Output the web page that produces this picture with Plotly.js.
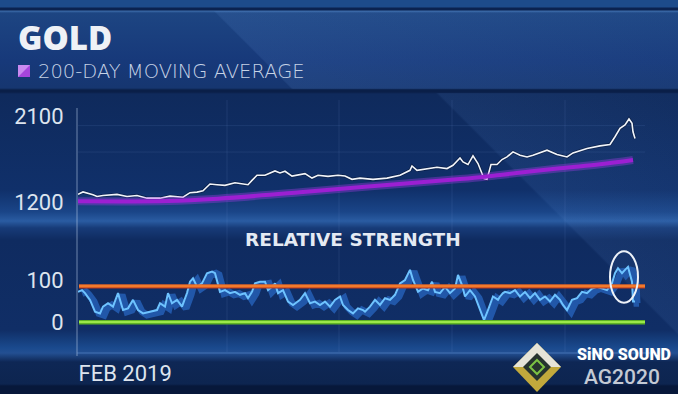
<!DOCTYPE html>
<html>
<head>
<meta charset="utf-8">
<script src="https://cdn.plot.ly/plotly-3.0.1.min.js"></script>
<style>
  html, body { margin: 0; padding: 0; background: #0c2450; }
  #wrap {
    position: relative; width: 678px; height: 394px; overflow: hidden;
    background:
      linear-gradient(180deg,
        #1d4b8b 0px, #1d4b8b 7px, #0b2250 8px, #0b2250 10px,
        #3b6aa8 11px, #1d4582 13px, #17397a 60px, #163670 88px,
        #0a1f48 90px, #0a1f48 92px,
        #0f2a5c 94px, #10306a 190px, #1a4588 212px, #2a5ca2 221px, #173b78 228px,
        #0f2b60 240px, #102e66 330px, #1a4a8e 348px, #234f92 353px, #0e2755 362px,
        #0d2550 384px, #07183a 386px, #07183a 394px);
  }
  #hdrglow { position: absolute; left: 0; top: 11px; width: 678px; height: 78px;
    background: linear-gradient(45deg, rgba(0,0,0,0) 38.5%, rgba(110,160,230,0.12) 38.8%, rgba(110,160,230,0.04) 100%); }
  #chartglow { position: absolute; left: 0; top: 93px; width: 678px; height: 292px;
    background: linear-gradient(45deg, rgba(0,0,0,0) 75%, rgba(110,160,230,0.09) 75.3%, rgba(110,160,230,0.03) 100%); }
  #chart { position: absolute; left: 0; top: 0; width: 678px; height: 394px; }
</style>
</head>
<body>
<div id="wrap"><div id="hdrglow"></div><div id="chartglow"></div><div id="chart"></div></div>
<script>
// ---- data (x = trading days since 1 Feb 2019) ----
const priceDays = [0,5,15,19,25,39,49,59,69,82,92,105,112,119,125,132,139,147,157,170,174,179,187,197,202,207,214,227,234,240,250,260,267,274,282,295,309,322,332,334,339,349,359,369,375,382,385,390,395,400,404,406,409,413,419,424,429,435,442,449,455,469,479,489,495,509,522,532,537,542,547,551,554,555,557];
const price = [1285,1310,1281,1263,1273,1284,1263,1273,1245,1245,1266,1255,1302,1308,1322,1392,1385,1378,1406,1385,1430,1483,1483,1528,1507,1525,1475,1500,1454,1483,1472,1483,1475,1441,1454,1441,1454,1483,1535,1580,1535,1553,1566,1553,1587,1664,1622,1595,1685,1605,1500,1448,1441,1595,1595,1647,1674,1727,1692,1674,1692,1744,1699,1674,1716,1762,1789,1804,1884,1972,2006,2069,2024,1936,1867];

const maDays = [0,90,140,222,287,382,407,422,482,522,555];
const ma200 = [1212,1215,1240,1306,1364,1444,1468,1486,1556,1597,1642];

const rsiDays = [0,4,7,12,17,22,25,30,35,40,45,50,55,60,65,72,79,82,87,90,94,99,104,109,112,115,119,124,129,134,137,142,147,152,157,162,167,170,174,177,182,187,190,194,197,200,205,210,215,222,227,232,237,242,247,252,257,262,265,270,275,280,285,287,292,297,302,307,312,317,322,327,332,335,340,345,350,354,357,362,367,372,377,380,384,387,392,397,402,406,410,415,420,422,425,427,432,437,442,447,452,457,462,467,472,477,482,485,489,494,499,504,509,514,519,524,529,534,537,540,544,547,550,554,555,557];
const rsi = [72,76,69,53,25,21,37,45,37,69,29,33,53,29,21,25,29,45,37,69,45,53,37,69,96,104,84,92,116,120,116,72,76,69,72,65,69,57,72,92,96,96,76,84,92,69,76,49,41,53,69,45,49,41,49,37,53,61,41,29,21,33,29,25,37,53,41,57,53,65,92,100,124,100,72,80,76,96,72,69,84,69,80,112,88,61,76,61,29,5,29,61,53,61,69,72,69,76,61,72,57,69,53,61,49,65,53,41,29,53,57,72,69,80,84,80,76,92,116,128,116,124,131,96,49,49];

const upperLevel = 86;   // orange reference line
const lowerLevel = 0;    // green reference line
const priceTicks = [1200, 2100];
const rsiTicks = [0, 100];
const xTickVals = [0];
const xTickText = ['FEB 2019'];
const gridDays = [149, 261, 374, 487];
const priceGrid = [1725, 2000];
const circleDays = [532, 560];
const circleRsi = [46, 168];
const xEnd = 567;

const FONT = 'Roboto, "Open Sans", sans-serif';
const WIDE = '"Open Sans", Roboto, sans-serif';
const DJ = '"DejaVu Sans", "Open Sans", sans-serif';
const W = 678, H = 394;
const px = x => x / W, py = y => (H - y) / H;
const poly = pts => 'M' + pts.map(p => px(p[0]) + ',' + py(p[1])).join('L') + 'Z';

const traces = [
  {x: priceDays, y: price, xaxis: 'x', yaxis: 'y', mode: 'lines',
   line: {color: 'rgba(3,10,30,0.4)', width: 3.2}, hoverinfo: 'skip'},
  {x: priceDays, y: price, xaxis: 'x', yaxis: 'y', mode: 'lines',
   line: {color: '#f2f5fa', width: 1.6}},
  {x: maDays, y: ma200, xaxis: 'x', yaxis: 'y', mode: 'lines', line: {color: 'rgba(170,60,235,0.35)', width: 8, shape: 'spline'}},
  {x: maDays, y: ma200, xaxis: 'x', yaxis: 'y', mode: 'lines', line: {color: '#9c1fd2', width: 4, shape: 'spline'}},
  {x: rsiDays.map(d => d + 4), y: rsi.map(v => v - 4), xaxis: 'x', yaxis: 'y2', mode: 'lines',
   line: {color: 'rgba(36,92,176,0.9)', width: 7}},
  {x: rsiDays, y: rsi, xaxis: 'x', yaxis: 'y2', mode: 'lines',
   line: {color: '#6ec3ff', width: 2}},
  {x: priceTicks.map(() => -3), y: priceTicks, xaxis: 'x', yaxis: 'y', mode: 'markers', cliponaxis: false,
   marker: {symbol: 'triangle-left', size: 7, color: '#c9d6e8'}},
  {x: rsiTicks.map(() => -3), y: rsiTicks, xaxis: 'x', yaxis: 'y2', mode: 'markers', cliponaxis: false,
   marker: {symbol: 'triangle-left', size: 7, color: '#c9d6e8'}},
  {x: xTickVals.map(v => v + 2), y: xTickVals.map(() => -80), xaxis: 'x', yaxis: 'y2', mode: 'markers', cliponaxis: false,
   marker: {symbol: 'triangle-down', size: 8, color: '#c9d6e8'}}
];

const shapes = [];
shapes.push({type: 'rect', xref: 'paper', yref: 'paper', x0: px(18), x1: px(30), y0: py(77), y1: py(65),
  fillcolor: '#a545dc', line: {width: 0}});
shapes.push({type: 'path', xref: 'paper', yref: 'paper', path: poly([[18,65],[30,65],[18,77]]),
  fillcolor: '#c98af0', line: {width: 0}});
shapes.push({type: 'line', xref: 'paper', yref: 'paper', x0: px(77), x1: px(77), y0: py(356), y1: py(108),
  line: {color: 'rgba(190,210,235,0.55)', width: 1}});
shapes.push({type: 'line', xref: 'paper', yref: 'paper', x0: px(77), x1: px(650), y0: py(353), y1: py(353),
  line: {color: 'rgba(110,160,225,0.45)', width: 1}});
gridDays.forEach(d => shapes.push({type: 'line', xref: 'x', yref: 'paper', x0: d, x1: d, y0: py(352), y1: py(100),
  line: {color: 'rgba(120,165,225,0.13)', width: 1}, layer: 'below'}));
priceGrid.forEach(v => shapes.push({type: 'line', xref: 'paper', yref: 'y', x0: px(78), x1: px(645), y0: v, y1: v,
  line: {color: 'rgba(120,165,225,0.12)', width: 1}, layer: 'below'}));
shapes.push({type: 'line', xref: 'x', yref: 'y2', x0: 1, x1: xEnd, y0: upperLevel - 1.6, y1: upperLevel - 1.6,
  line: {color: '#b8361c', width: 4}});
shapes.push({type: 'line', xref: 'x', yref: 'y2', x0: 1, x1: xEnd, y0: upperLevel, y1: upperLevel,
  line: {color: '#f27a2c', width: 3}});
shapes.push({type: 'line', xref: 'x', yref: 'y2', x0: 1, x1: xEnd + 3, y0: lowerLevel, y1: lowerLevel,
  line: {color: '#5fb324', width: 4.5}});
shapes.push({type: 'line', xref: 'x', yref: 'y2', x0: 1, x1: xEnd + 3, y0: lowerLevel + 0.8, y1: lowerLevel + 0.8,
  line: {color: '#9ae84a', width: 2}});
shapes.push({type: 'circle', xref: 'x', yref: 'y2', x0: circleDays[0], x1: circleDays[1], y0: circleRsi[0], y1: circleRsi[1],
  line: {color: '#eef2f8', width: 2}});
// watermark logo (diamond)
shapes.push({type: 'path', xref: 'paper', yref: 'paper', path: poly([[537,343],[561,367],[537,392],[513,367]]), fillcolor: '#c2a93c', line: {width: 0}});
shapes.push({type: 'path', xref: 'paper', yref: 'paper', path: poly([[537,343],[561,367],[513,367]]), fillcolor: '#e6e4d8', line: {width: 0}});
shapes.push({type: 'path', xref: 'paper', yref: 'paper', path: poly([[537,353],[551,367],[537,381],[523,367]]), fillcolor: '#26332f', line: {width: 0}});
shapes.push({type: 'path', xref: 'paper', yref: 'paper', path: poly([[537,360],[544,367],[537,374],[530,367]]), fillcolor: 'rgba(0,0,0,0)', line: {color: '#7cc243', width: 2}});

const annotations = [
  {text: 'GOLD', xref: 'paper', yref: 'paper', x: px(16), y: py(37), xanchor: 'left', yanchor: 'middle', showarrow: false,
   font: {family: WIDE, size: 33, color: '#eef1f6', weight: 800}},
  {text: '200-DAY MOVING AVERAGE', xref: 'paper', yref: 'paper', x: px(36), y: py(71), xanchor: 'left', yanchor: 'middle', showarrow: false,
   font: {family: DJ, size: 19.5, color: '#c6d3e6', weight: 200}},
  {text: 'RELATIVE STRENGTH', xref: 'paper', yref: 'paper', x: px(353), y: py(239), xanchor: 'center', yanchor: 'middle', showarrow: false,
   font: {family: DJ, size: 18.5, color: '#e4eaf3', weight: 700}},
  {text: 'SiNO SOUND', xref: 'paper', yref: 'paper', x: px(673), y: py(354), xanchor: 'right', yanchor: 'middle', showarrow: false,
   font: {family: FONT, size: 16, color: '#ffffff', weight: 900}},
  {text: 'AG2020', xref: 'paper', yref: 'paper', x: px(662), y: py(377), xanchor: 'right', yanchor: 'middle', showarrow: false,
   font: {family: FONT, size: 21, color: '#c4cad4', weight: 500}}
];

const tickFont = {family: FONT, size: 22, color: '#dde4ee'};

const layout = {
  width: W, height: H,
  margin: {l: 0, r: 0, t: 0, b: 0, pad: 0},
  paper_bgcolor: 'rgba(0,0,0,0)', plot_bgcolor: 'rgba(0,0,0,0)',
  showlegend: false,
  xaxis: {domain: [px(78), px(645)], range: [0, xEnd], anchor: 'y2', showgrid: false, zeroline: false, showline: false,
    tickmode: 'array', tickvals: xTickVals, ticktext: xTickText, ticks: 'outside', ticklen: 6, tickcolor: 'rgba(0,0,0,0)',
    ticklabelposition: 'outside right', tickfont: tickFont, automargin: false},
  yaxis: {domain: [py(207.3), py(111.2)], range: [1150, 2150], anchor: 'x', showgrid: false, zeroline: false,
    tickmode: 'array', tickvals: priceTicks, ticks: 'outside', ticklen: 9, tickcolor: 'rgba(0,0,0,0)', tickfont: tickFont, automargin: false},
  yaxis2: {domain: [py(354), py(248.3)], range: [-75, 175], anchor: 'x', showgrid: false, zeroline: false,
    tickmode: 'array', tickvals: rsiTicks, ticks: 'outside', ticklen: 9, tickcolor: 'rgba(0,0,0,0)', tickfont: tickFont, automargin: false},
  shapes: shapes,
  annotations: annotations
};

Plotly.newPlot('chart', traces, layout, {staticPlot: true, displayModeBar: false});
</script>
</body>
</html>
